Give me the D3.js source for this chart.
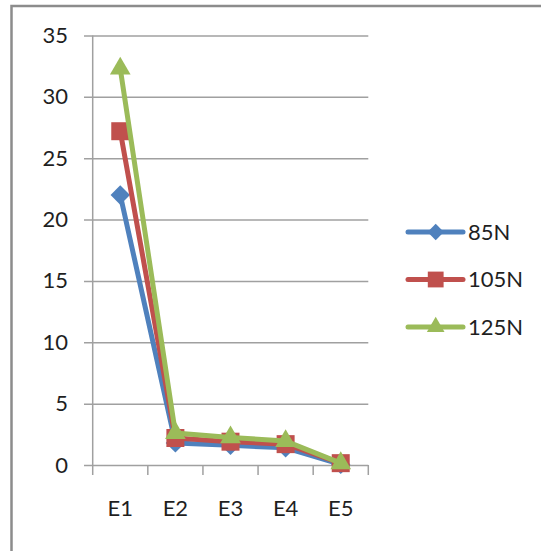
<!DOCTYPE html>
<html>
<head>
<meta charset="utf-8">
<script src="https://cdn.jsdelivr.net/npm/d3@7"></script>
<style>
  html, body { margin: 0; padding: 0; background: #fff; }
  svg { display: block; }
  text { font-family: Lato, "Open Sans", sans-serif; fill: #1f1f1f; }
</style>
</head>
<body>
<svg id="chart" width="541" height="551"></svg>
<script>
// Categories and series values
const categories = ["E1", "E2", "E3", "E4", "E5"];
const seriesNames = ["85N", "105N", "125N"];
const values85 = [22.0, 1.8, 1.6, 1.4, 0.05];
const values105 = [27.2, 2.2, 1.9, 1.7, 0.15];
const values125 = [32.3, 2.6, 2.25, 1.95, 0.15];
const yTicks = [0, 5, 10, 15, 20, 25, 30, 35];

const colors = ["#4F81BD", "#C0504D", "#9BBB59"];
const symbols = [d3.symbolDiamond2, d3.symbolSquare, d3.symbolTriangle];
const markerSizes = [240, 324, 185];
const legendSizes = [170, 250, 135];

const series = seriesNames.map((name, i) => ({
  name,
  values: [values85, values105, values125][i],
  color: colors[i],
  symbol: symbols[i],
  size: markerSizes[i],
  legendSize: legendSizes[i]
}));

const svg = d3.select("#chart");

// Chart-area frame
svg.append("rect")
  .attr("x", 11.5).attr("y", 6)
  .attr("width", 600).attr("height", 600)
  .attr("fill", "#fff")
  .attr("stroke", "#8c8c8c")
  .attr("stroke-width", 2.5);

const plot = { left: 92.7, right: 368.3, top: 35.5, bottom: 465 };
const gridStart = 84;

const x = d3.scaleBand().domain(categories).range([plot.left, plot.right]).padding(0);
const y = d3.scaleLinear().domain([0, 35]).range([plot.bottom, plot.top]);

// Horizontal gridlines with value labels
const yAxis = d3.axisLeft(y)
  .tickValues(yTicks)
  .tickSizeInner(-(plot.right - gridStart))
  .tickSizeOuter(0)
  .tickPadding(16)
  .tickFormat(d3.format("d"));

const gy = svg.append("g")
  .attr("transform", `translate(${gridStart},0)`)
  .call(yAxis);
gy.select(".domain").remove();
gy.selectAll(".tick line").attr("stroke", "#a0a0a0").attr("stroke-width", 1.5);
gy.selectAll(".tick text")
  .attr("font-size", 22)
  .attr("fill", "#1f1f1f")
  .style("font-family", "Lato, 'Open Sans', sans-serif");

// Vertical axis line
svg.append("line")
  .attr("x1", plot.left).attr("x2", plot.left)
  .attr("y1", y(35)).attr("y2", y(0))
  .attr("stroke", "#a0a0a0").attr("stroke-width", 1.5);

// Category boundary tick marks
const boundaries = categories.map(c => x(c)).concat([x(categories[categories.length - 1]) + x.bandwidth()]);
svg.append("g").selectAll("line")
  .data(boundaries)
  .join("line")
  .attr("x1", d => d).attr("x2", d => d)
  .attr("y1", y(0)).attr("y2", y(0) + 10)
  .attr("stroke", "#a0a0a0").attr("stroke-width", 1.5);

// Category labels
const xAxis = d3.axisBottom(x).tickSize(0).tickPadding(35);
const gx = svg.append("g")
  .attr("transform", `translate(0,${y(0)})`)
  .call(xAxis);
gx.select(".domain").remove();
gx.selectAll(".tick text")
  .attr("font-size", 22)
  .attr("fill", "#1f1f1f")
  .style("font-family", "Lato, 'Open Sans', sans-serif");

// Series lines and markers
const line = d3.line()
  .x((d, i) => x(categories[i]) + x.bandwidth() / 2)
  .y(d => y(d));

series.forEach(s => {
  const g = svg.append("g");
  g.append("path")
    .datum(s.values)
    .attr("d", line)
    .attr("fill", "none")
    .attr("stroke", s.color)
    .attr("stroke-width", 5)
    .attr("stroke-linejoin", "round")
    .attr("stroke-linecap", "round");
  g.selectAll("path.marker")
    .data(s.values)
    .join("path")
    .attr("class", "marker")
    .attr("d", d3.symbol().type(s.symbol).size(s.size))
    .attr("transform", (d, i) => `translate(${x(categories[i]) + x.bandwidth() / 2},${y(d)})`)
    .attr("fill", s.color);
});

// Legend
const legend = svg.append("g");
const legendY = [232, 279.5, 327];
series.forEach((s, i) => {
  const g = legend.append("g").attr("transform", `translate(0,${legendY[i]})`);
  g.append("line")
    .attr("x1", 408).attr("x2", 463)
    .attr("y1", 0).attr("y2", 0)
    .attr("stroke", s.color)
    .attr("stroke-width", 5)
    .attr("stroke-linecap", "round");
  g.append("path")
    .attr("d", d3.symbol().type(s.symbol).size(s.legendSize))
    .attr("transform", "translate(435.7,0)")
    .attr("fill", s.color);
  g.append("text")
    .attr("x", 468)
    .attr("y", 0)
    .attr("dy", "0.36em")
    .attr("font-size", 22)
    .text(s.name);
});
</script>
</body>
</html>
